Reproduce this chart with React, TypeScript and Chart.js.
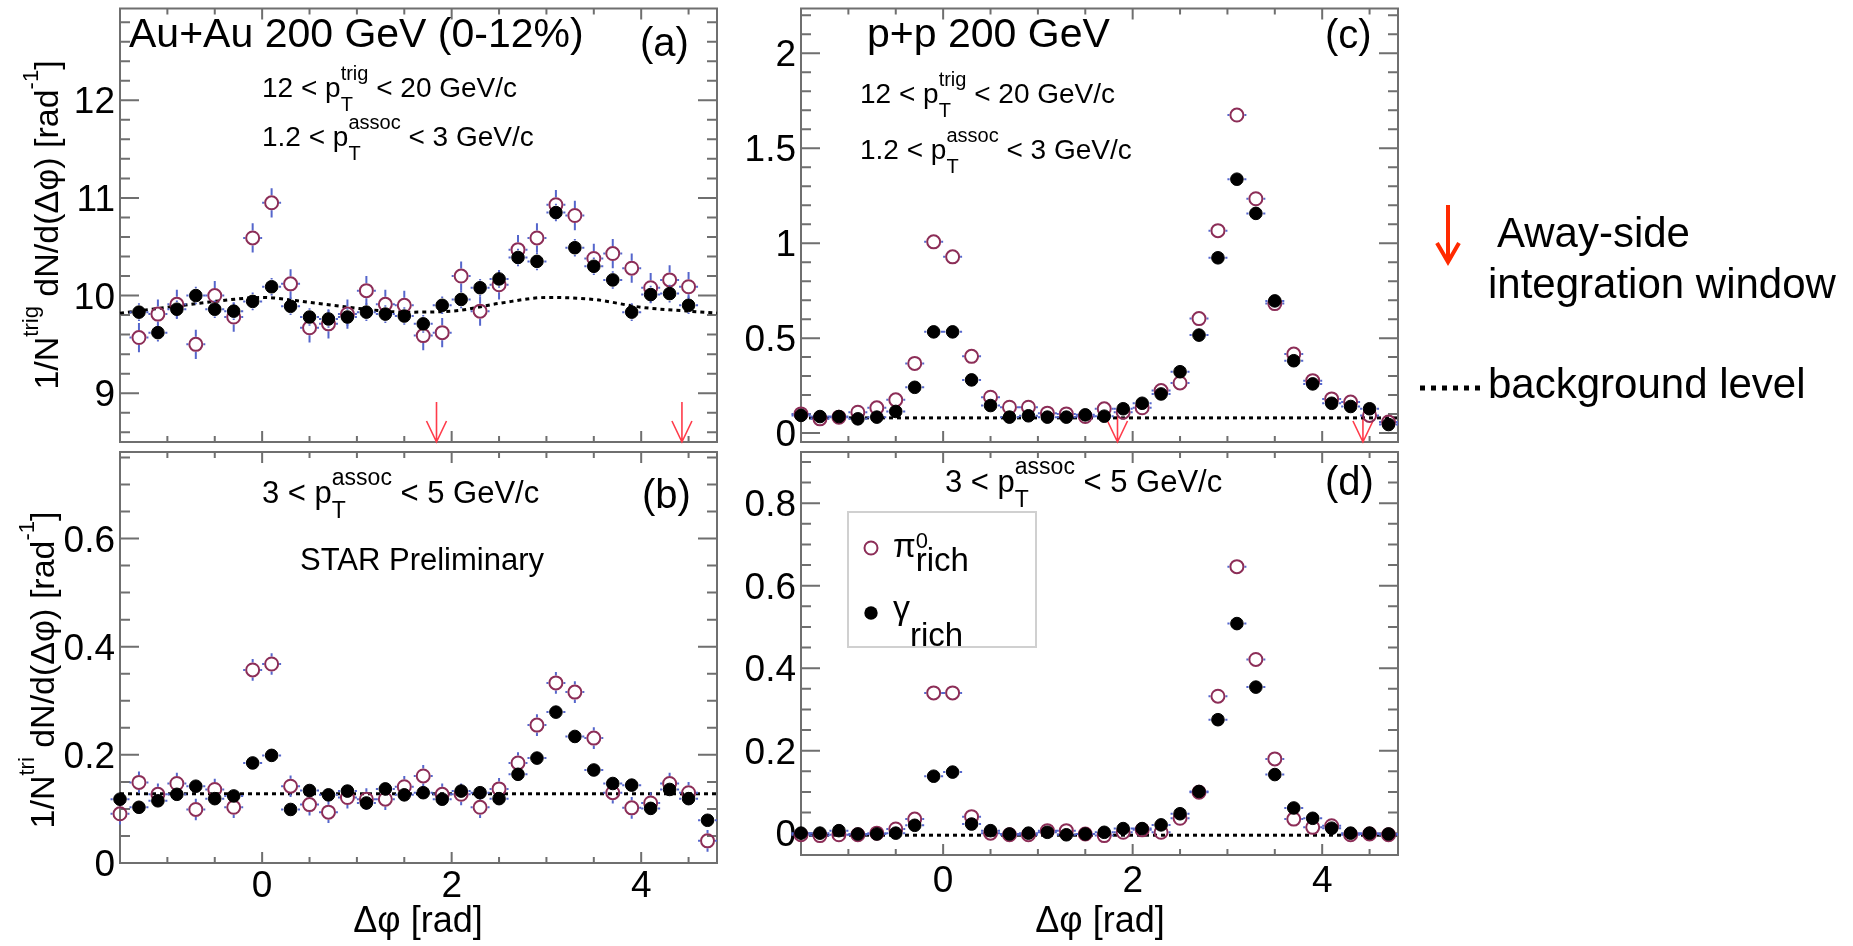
import React, { useEffect, useRef } from "react";
import { Chart, registerables } from "chart.js";

Chart.register(...registerables);

const W = 1853;
const H = 946;
const FONT = '"Liberation Sans", Arial, Helvetica, sans-serif';
const PI_COL = "#8c2d57";
const ERR_COL = "#5566cc";
const FRAME_COL = "#6f6f6f";
const ARROW_COL = "#ff3b4a";

// ---------- data (Δφ bin centres, rad) ----------
const dphi32 = [-1.5, -1.3, -1.1, -0.9, -0.7, -0.5, -0.3, -0.1, 0.1, 0.3, 0.5, 0.7, 0.9, 1.1, 1.3, 1.5, 1.7, 1.9, 2.1, 2.3, 2.5, 2.7, 2.9, 3.1, 3.3, 3.5, 3.7, 3.9, 4.1, 4.3, 4.5, 4.7];
const dphi30 = [-1.3, -1.1, -0.9, -0.7, -0.5, -0.3, -0.1, 0.1, 0.3, 0.5, 0.7, 0.9, 1.1, 1.3, 1.5, 1.7, 1.9, 2.1, 2.3, 2.5, 2.7, 2.9, 3.1, 3.3, 3.5, 3.7, 3.9, 4.1, 4.3, 4.5];

// (a) Au+Au 0-12%, 1.2 < pT assoc < 3
const piA = [9.57, 9.81, 9.91, 9.5, 10.0, 9.78, 10.59, 10.95, 10.12, 9.67, 9.71, 9.81, 10.05, 9.91, 9.9, 9.59, 9.62, 10.2, 9.84, 10.11, 10.47, 10.59, 10.93, 10.82, 10.38, 10.43, 10.28, 10.08, 10.16, 10.09];
const gaA = [9.83, 9.62, 9.86, 10.0, 9.86, 9.84, 9.94, 10.09, 9.89, 9.78, 9.76, 9.78, 9.83, 9.81, 9.79, 9.71, 9.9, 9.96, 10.08, 10.17, 10.39, 10.35, 10.85, 10.49, 10.3, 10.16, 9.83, 10.01, 10.02, 9.9];
const bgXA = [-1.5, -1.0, -0.5, 0.0, 0.5, 1.0, 1.5, 2.0, 2.5, 3.0, 3.5, 4.0, 4.5, 4.8];
const bgYA = [9.82, 9.88, 9.94, 9.98, 9.93, 9.87, 9.83, 9.84, 9.92, 9.98, 9.96, 9.88, 9.84, 9.82];

// (b) Au+Au 0-12%, 3 < pT assoc < 5
const piB = [0.091, 0.149, 0.127, 0.147, 0.099, 0.136, 0.103, 0.357, 0.368, 0.142, 0.108, 0.094, 0.121, 0.118, 0.118, 0.141, 0.161, 0.127, 0.127, 0.103, 0.137, 0.185, 0.255, 0.333, 0.316, 0.231, 0.13, 0.102, 0.111, 0.147, 0.13, 0.041];
const gaB = [0.118, 0.103, 0.115, 0.127, 0.142, 0.119, 0.124, 0.185, 0.199, 0.099, 0.134, 0.126, 0.133, 0.111, 0.137, 0.126, 0.13, 0.118, 0.133, 0.13, 0.119, 0.164, 0.194, 0.279, 0.234, 0.172, 0.147, 0.144, 0.101, 0.136, 0.119, 0.079];
const bgXB = [-1.5, 4.8];
const bgYB = [0.128, 0.128];

// (c) p+p, 1.2 < pT assoc < 3
const piC = [0.101, 0.075, 0.084, 0.11, 0.133, 0.175, 0.367, 1.007, 0.928, 0.404, 0.189, 0.136, 0.136, 0.105, 0.101, 0.087, 0.128, 0.11, 0.133, 0.224, 0.264, 0.603, 1.066, 1.675, 1.234, 0.682, 0.416, 0.276, 0.18, 0.163, 0.093, 0.058];
const gaC = [0.093, 0.087, 0.087, 0.075, 0.084, 0.114, 0.241, 0.533, 0.533, 0.28, 0.145, 0.084, 0.091, 0.084, 0.084, 0.096, 0.089, 0.128, 0.157, 0.206, 0.323, 0.516, 0.923, 1.337, 1.157, 0.696, 0.381, 0.259, 0.157, 0.14, 0.128, 0.045];
const bgXC = [-1.5, 4.8];
const bgYC = [0.08, 0.08];

// (d) p+p, 3 < pT assoc < 5
const piD = [-0.004, -0.006, -0.004, -0.004, 0.0, 0.01, 0.034, 0.34, 0.34, 0.04, 0.0, -0.004, -0.004, 0.006, 0.006, -0.002, -0.006, 0.002, 0.008, 0.002, 0.036, 0.099, 0.332, 0.646, 0.421, 0.18, 0.034, 0.014, 0.018, -0.004, -0.002, -0.004];
const gaD = [0.0, 0.0, 0.006, -0.002, -0.002, 0.0, 0.019, 0.138, 0.148, 0.022, 0.006, -0.002, 0.0, 0.002, -0.004, -0.002, 0.002, 0.011, 0.011, 0.02, 0.047, 0.101, 0.275, 0.508, 0.354, 0.142, 0.061, 0.036, 0.012, 0.0, 0.0, -0.002];
const bgXD = [-1.5, 4.8];
const bgYD = [-0.005, -0.005];

// statistical errors (y) and half bin width (x)
const errPiA = 0.15, errGaA = 0.09;
const errPiB = 0.02, errGaB = 0.007;
const errPiC = 0.03, errGaC = 0.012;
const errPiD = 0.012, errGaD = 0.006;
const halfBin = 0.1;

// away-side integration window (rad)
const awayWindow = [1.84, 4.43];

// axis ticks
const xRange = [-1.5, 4.8];
const xMajorTicks = [0, 2, 4];
const yTicksA = [9, 10, 11, 12];
const yTicksB = [0, 0.2, 0.4, 0.6];
const yTicksC = [0, 0.5, 1, 1.5, 2];
const yTicksD = [0, 0.2, 0.4, 0.6, 0.8];

// ---------- helpers ----------
type Part = { t: string; s: number; dy?: number; adv?: boolean };

function partsWidth(ctx: any, parts: Part[]) {
  let w = 0;
  for (const p of parts) {
    ctx.font = `${p.s}px ${FONT}`;
    if (p.adv !== false) w += ctx.measureText(p.t).width;
  }
  return w;
}
function drawParts(ctx: any, x: number, y: number, parts: Part[]) {
  let cx = x;
  for (const p of parts) {
    ctx.font = `${p.s}px ${FONT}`;
    ctx.fillText(p.t, cx, y + (p.dy || 0));
    if (p.adv !== false) cx += ctx.measureText(p.t).width;
  }
}
function text(ctx: any, t: string, x: number, y: number, size: number, align = "left") {
  ctx.font = `${size}px ${FONT}`;
  ctx.textAlign = align;
  ctx.fillText(t, x, y);
  ctx.textAlign = "left";
}
function yTitle(ctx: any, cx: number, cy: number, sup: string) {
  const parts: Part[] = [
    { t: "1/N", s: 34 },
    { t: sup, s: 22, dy: -20 },
    { t: " dN/d(\u0394\u03c6) [rad", s: 34 },
    { t: "-1", s: 22, dy: -20 },
    { t: "]", s: 34 },
  ];
  ctx.save();
  ctx.translate(cx, cy);
  ctx.rotate(-Math.PI / 2);
  const w = partsWidth(ctx, parts);
  drawParts(ctx, -w / 2, 0, parts);
  ctx.restore();
}
function ptLine(lo: string, hi: string, tag: string, big: boolean): Part[] {
  const s = big ? 31 : 28;
  const ss = big ? 23 : 20;
  return [
    { t: lo + " < p", s },
    { t: "T", s: ss, dy: big ? 15 : 14, adv: false },
    { t: tag, s: ss, dy: big ? -18 : -17 },
    { t: " < " + hi + " GeV/c", s },
  ];
}

function ticksOf(min: number, max: number, step: number, major: number) {
  const out: { v: number; major: boolean }[] = [];
  const k0 = Math.ceil(min / step - 1e-9);
  const k1 = Math.floor(max / step + 1e-9);
  for (let k = k0; k <= k1; k++) {
    const v = k * step;
    const r = v / major;
    out.push({ v, major: Math.abs(r - Math.round(r)) < 1e-6 });
  }
  return out;
}

const rootAxes = {
  id: "rootAxes",
  beforeDatasetsDraw(chart: any) {
    const o = chart.options.plugins.rootAxes;
    const ctx = chart.ctx;
    const a = chart.chartArea;
    const xs = chart.scales.x;
    const ys = chart.scales.y;
    ctx.save();
    ctx.strokeStyle = FRAME_COL;
    ctx.lineWidth = 2;
    ctx.strokeRect(a.left, a.top, a.right - a.left, a.bottom - a.top);
    ctx.beginPath();
    for (const t of ticksOf(ys.min, ys.max, o.yMinor, o.yMajor)) {
      const py = ys.getPixelForValue(t.v);
      if (py < a.top + 2 || py > a.bottom - 2) continue;
      const len = t.major ? 19 : 10;
      ctx.moveTo(a.left, py);
      ctx.lineTo(a.left + len, py);
      ctx.moveTo(a.right, py);
      ctx.lineTo(a.right - len, py);
    }
    for (const t of ticksOf(xs.min, xs.max, 0.5, 2)) {
      const px = xs.getPixelForValue(t.v);
      if (px < a.left + 2 || px > a.right - 2) continue;
      const len = t.major ? 11 : 6;
      ctx.moveTo(px, a.bottom);
      ctx.lineTo(px, a.bottom - len);
      ctx.moveTo(px, a.top);
      ctx.lineTo(px, a.top + len);
    }
    ctx.stroke();
    ctx.fillStyle = "#000";
    ctx.font = `37px ${FONT}`;
    ctx.textAlign = "right";
    ctx.textBaseline = "alphabetic";
    for (const v of o.yLabels) {
      ctx.fillText(String(v), a.left - 5, ys.getPixelForValue(v) + 13);
    }
    if (o.xLabelBase) {
      ctx.textAlign = "center";
      for (const v of xMajorTicks) {
        ctx.fillText(String(v), xs.getPixelForValue(v), o.xLabelBase);
      }
    }
    if (o.arrowLen) {
      ctx.strokeStyle = ARROW_COL;
      ctx.lineWidth = 1.6;
      for (const v of awayWindow) {
        const px = xs.getPixelForValue(v);
        ctx.beginPath();
        ctx.moveTo(px, a.bottom - o.arrowLen);
        ctx.lineTo(px, a.bottom);
        ctx.moveTo(px - 10, a.bottom - 21);
        ctx.lineTo(px, a.bottom);
        ctx.lineTo(px + 10, a.bottom - 21);
        ctx.stroke();
      }
    }
    ctx.restore();
  },
};

const errBars = {
  id: "errBars",
  beforeDatasetDraw(chart: any, args: any) {
    const ds = chart.data.datasets[args.index];
    if (!ds.errY) return;
    const ctx = chart.ctx;
    const xs = chart.scales.x;
    const ys = chart.scales.y;
    const r = ds.pointRadius + 1;
    ctx.save();
    ctx.strokeStyle = ERR_COL;
    ctx.lineWidth = 2;
    ctx.beginPath();
    for (const p of ds.data) {
      const px = xs.getPixelForValue(p.x);
      const py = ys.getPixelForValue(p.y);
      const top = ys.getPixelForValue(p.y + ds.errY);
      const bot = ys.getPixelForValue(p.y - ds.errY);
      const lft = xs.getPixelForValue(p.x - ds.errX);
      const rgt = xs.getPixelForValue(p.x + ds.errX);
      if (py - top > r) { ctx.moveTo(px, py - r); ctx.lineTo(px, top); }
      if (bot - py > r) { ctx.moveTo(px, py + r); ctx.lineTo(px, bot); }
      if (px - lft > r) { ctx.moveTo(px - r, py); ctx.lineTo(lft, py); }
      if (rgt - px > r) { ctx.moveTo(px + r, py); ctx.lineTo(rgt, py); }
    }
    ctx.stroke();
    ctx.restore();
  },
};

const pts = (xs: number[], ys: number[]) => xs.map((x, i) => ({ x, y: ys[i] }));

type PanelDef = {
  rect: { l: number; t: number; r: number; b: number };
  yMin: number; yMax: number; yMinor: number; yMajor: number; yLabels: number[];
  xs: number[]; pi: number[]; ga: number[]; errPi: number; errGa: number;
  bgX: number[]; bgY: number[]; curve: boolean;
  xLabelBase?: number; arrowLen?: number;
  deco: (ctx: any) => void;
};

const PANELS: PanelDef[] = [
  {
    rect: { l: 120, t: 7, r: 717, b: 442 },
    yMin: 8.5, yMax: 12.94, yMinor: 0.2, yMajor: 1, yLabels: yTicksA,
    xs: dphi30, pi: piA, ga: gaA, errPi: errPiA, errGa: errGaA,
    bgX: bgXA, bgY: bgYA, curve: true, arrowLen: 40,
    deco: (ctx) => {
      ctx.fillStyle = "#000";
      text(ctx, "Au+Au 200 GeV (0-12%)", 129, 47, 41);
      text(ctx, "(a)", 640, 56, 40);
      drawParts(ctx, 262, 97, ptLine("12", "20", "trig", false));
      drawParts(ctx, 262, 146, ptLine("1.2", "3", "assoc", false));
      yTitle(ctx, 58, 225, "trig");
    },
  },
  {
    rect: { l: 120, t: 452, r: 717, b: 863 },
    yMin: 0, yMax: 0.76, yMinor: 0.05, yMajor: 0.2, yLabels: yTicksB,
    xs: dphi32, pi: piB, ga: gaB, errPi: errPiB, errGa: errGaB,
    bgX: bgXB, bgY: bgYB, curve: false, xLabelBase: 897,
    deco: (ctx) => {
      ctx.fillStyle = "#000";
      drawParts(ctx, 262, 503, ptLine("3", "5", "assoc", true));
      text(ctx, "(b)", 642, 508, 40);
      text(ctx, "STAR Preliminary", 300, 570, 31);
      yTitle(ctx, 54, 670, "tri");
      text(ctx, "\u0394\u03c6 [rad]", 418, 932, 36, "center");
    },
  },
  {
    rect: { l: 801, t: 6, r: 1398, b: 442 },
    yMin: -0.047, yMax: 2.236, yMinor: 0.1, yMajor: 0.5, yLabels: yTicksC,
    xs: dphi32, pi: piC, ga: gaC, errPi: errPiC, errGa: errGaC,
    bgX: bgXC, bgY: bgYC, curve: false, arrowLen: 26,
    deco: (ctx) => {
      ctx.fillStyle = "#000";
      text(ctx, "p+p 200 GeV", 867, 47, 41);
      text(ctx, "(c)", 1325, 48, 40);
      drawParts(ctx, 860, 103, ptLine("12", "20", "trig", false));
      drawParts(ctx, 860, 159, ptLine("1.2", "3", "assoc", false));
    },
  },
  {
    rect: { l: 801, t: 452, r: 1398, b: 855 },
    yMin: -0.053, yMax: 0.924, yMinor: 0.05, yMajor: 0.2, yLabels: yTicksD,
    xs: dphi32, pi: piD, ga: gaD, errPi: errPiD, errGa: errGaD,
    bgX: bgXD, bgY: bgYD, curve: false, xLabelBase: 892,
    deco: (ctx) => {
      ctx.fillStyle = "#000";
      drawParts(ctx, 945, 492, ptLine("3", "5", "assoc", true));
      text(ctx, "(d)", 1325, 495, 40);
      text(ctx, "\u0394\u03c6 [rad]", 1100, 932, 36, "center");
      // legend box
      ctx.save();
      ctx.strokeStyle = "#d0d0d0";
      ctx.lineWidth = 2;
      ctx.strokeRect(848, 512, 188, 135);
      ctx.beginPath();
      ctx.arc(871, 548, 6.5, 0, Math.PI * 2);
      ctx.strokeStyle = PI_COL;
      ctx.stroke();
      ctx.beginPath();
      ctx.arc(871, 613, 6.7, 0, Math.PI * 2);
      ctx.fillStyle = "#000";
      ctx.fill();
      ctx.restore();
      ctx.fillStyle = "#000";
      drawParts(ctx, 893, 557, [
        { t: "\u03c0", s: 33 },
        { t: "rich", s: 33, dy: 14, adv: false },
        { t: "0", s: 22, dy: -9 },
      ]);
      drawParts(ctx, 893, 619, [
        { t: "\u03b3", s: 34 },
        { t: "rich", s: 33, dy: 27 },
      ]);
      // right-hand legend
      ctx.save();
      ctx.strokeStyle = "#ff2a00";
      ctx.lineWidth = 4;
      ctx.beginPath();
      ctx.moveTo(1448, 205);
      ctx.lineTo(1448, 260);
      ctx.moveTo(1437, 243);
      ctx.lineTo(1448, 262);
      ctx.lineTo(1459, 243);
      ctx.stroke();
      ctx.strokeStyle = "#000";
      ctx.lineWidth = 5;
      ctx.setLineDash([5, 6]);
      ctx.beginPath();
      ctx.moveTo(1420, 388);
      ctx.lineTo(1480, 388);
      ctx.stroke();
      ctx.restore();
      ctx.fillStyle = "#000";
      text(ctx, "Away-side", 1497, 247, 42);
      text(ctx, "integration window", 1488, 298, 42);
      text(ctx, "background level", 1488, 398, 42);
    },
  },
];

function makeConfig(p: PanelDef): any {
  return {
    type: "scatter",
    data: {
      datasets: [
        {
          label: "\u03b3 rich",
          data: pts(p.xs, p.ga),
          pointRadius: 6.3,
          pointBorderWidth: 1,
          pointBackgroundColor: "#000",
          pointBorderColor: "#000",
          errY: p.errGa,
          errX: halfBin,
          clip: false,
        },
        {
          label: "\u03c00 rich",
          data: pts(p.xs, p.pi),
          pointRadius: 6.5,
          pointBorderWidth: 2,
          pointBackgroundColor: "rgba(0,0,0,0)",
          pointBorderColor: PI_COL,
          errY: p.errPi,
          errX: halfBin,
          clip: false,
        },
        {
          label: "background",
          data: pts(p.bgX, p.bgY),
          showLine: true,
          pointRadius: 0,
          borderColor: "#000",
          borderWidth: 3,
          borderDash: [4, 4],
          tension: p.curve ? 0.4 : 0,
          cubicInterpolationMode: p.curve ? "monotone" : "default",
          clip: false,
        },
      ],
    },
    options: {
      responsive: false,
      animation: false,
      events: [],
      layout: {
        padding: { left: p.rect.l, top: p.rect.t, right: W - p.rect.r, bottom: H - p.rect.b },
      },
      scales: {
        x: { type: "linear", min: xRange[0], max: xRange[1], display: false },
        y: { type: "linear", min: p.yMin, max: p.yMax, display: false },
      },
      plugins: {
        legend: { display: false },
        tooltip: { enabled: false },
        rootAxes: {
          yMinor: p.yMinor,
          yMajor: p.yMajor,
          yLabels: p.yLabels,
          xLabelBase: p.xLabelBase,
          arrowLen: p.arrowLen,
        },
      },
    },
    plugins: [
      rootAxes,
      errBars,
      { id: "deco", afterDraw: (c: any) => { c.ctx.save(); p.deco(c.ctx); c.ctx.restore(); } },
    ],
  };
}

export default function App() {
  const r0 = useRef<HTMLCanvasElement>(null);
  const r1 = useRef<HTMLCanvasElement>(null);
  const r2 = useRef<HTMLCanvasElement>(null);
  const r3 = useRef<HTMLCanvasElement>(null);
  const refs = [r0, r1, r2, r3];

  useEffect(() => {
    document.body.style.margin = "0";
    const charts = PANELS.map((p, i) => new Chart(refs[i].current as HTMLCanvasElement, makeConfig(p)));
    return () => charts.forEach((c) => c.destroy());
  }, []);

  return (
    <div style={{ position: "relative", width: W, height: H, background: "#fff", overflow: "hidden" }}>
      {refs.map((r, i) => (
        <canvas
          key={i}
          ref={r}
          width={W}
          height={H}
          style={{ position: "absolute", left: 0, top: 0, width: W, height: H }}
        />
      ))}
    </div>
  );
}
